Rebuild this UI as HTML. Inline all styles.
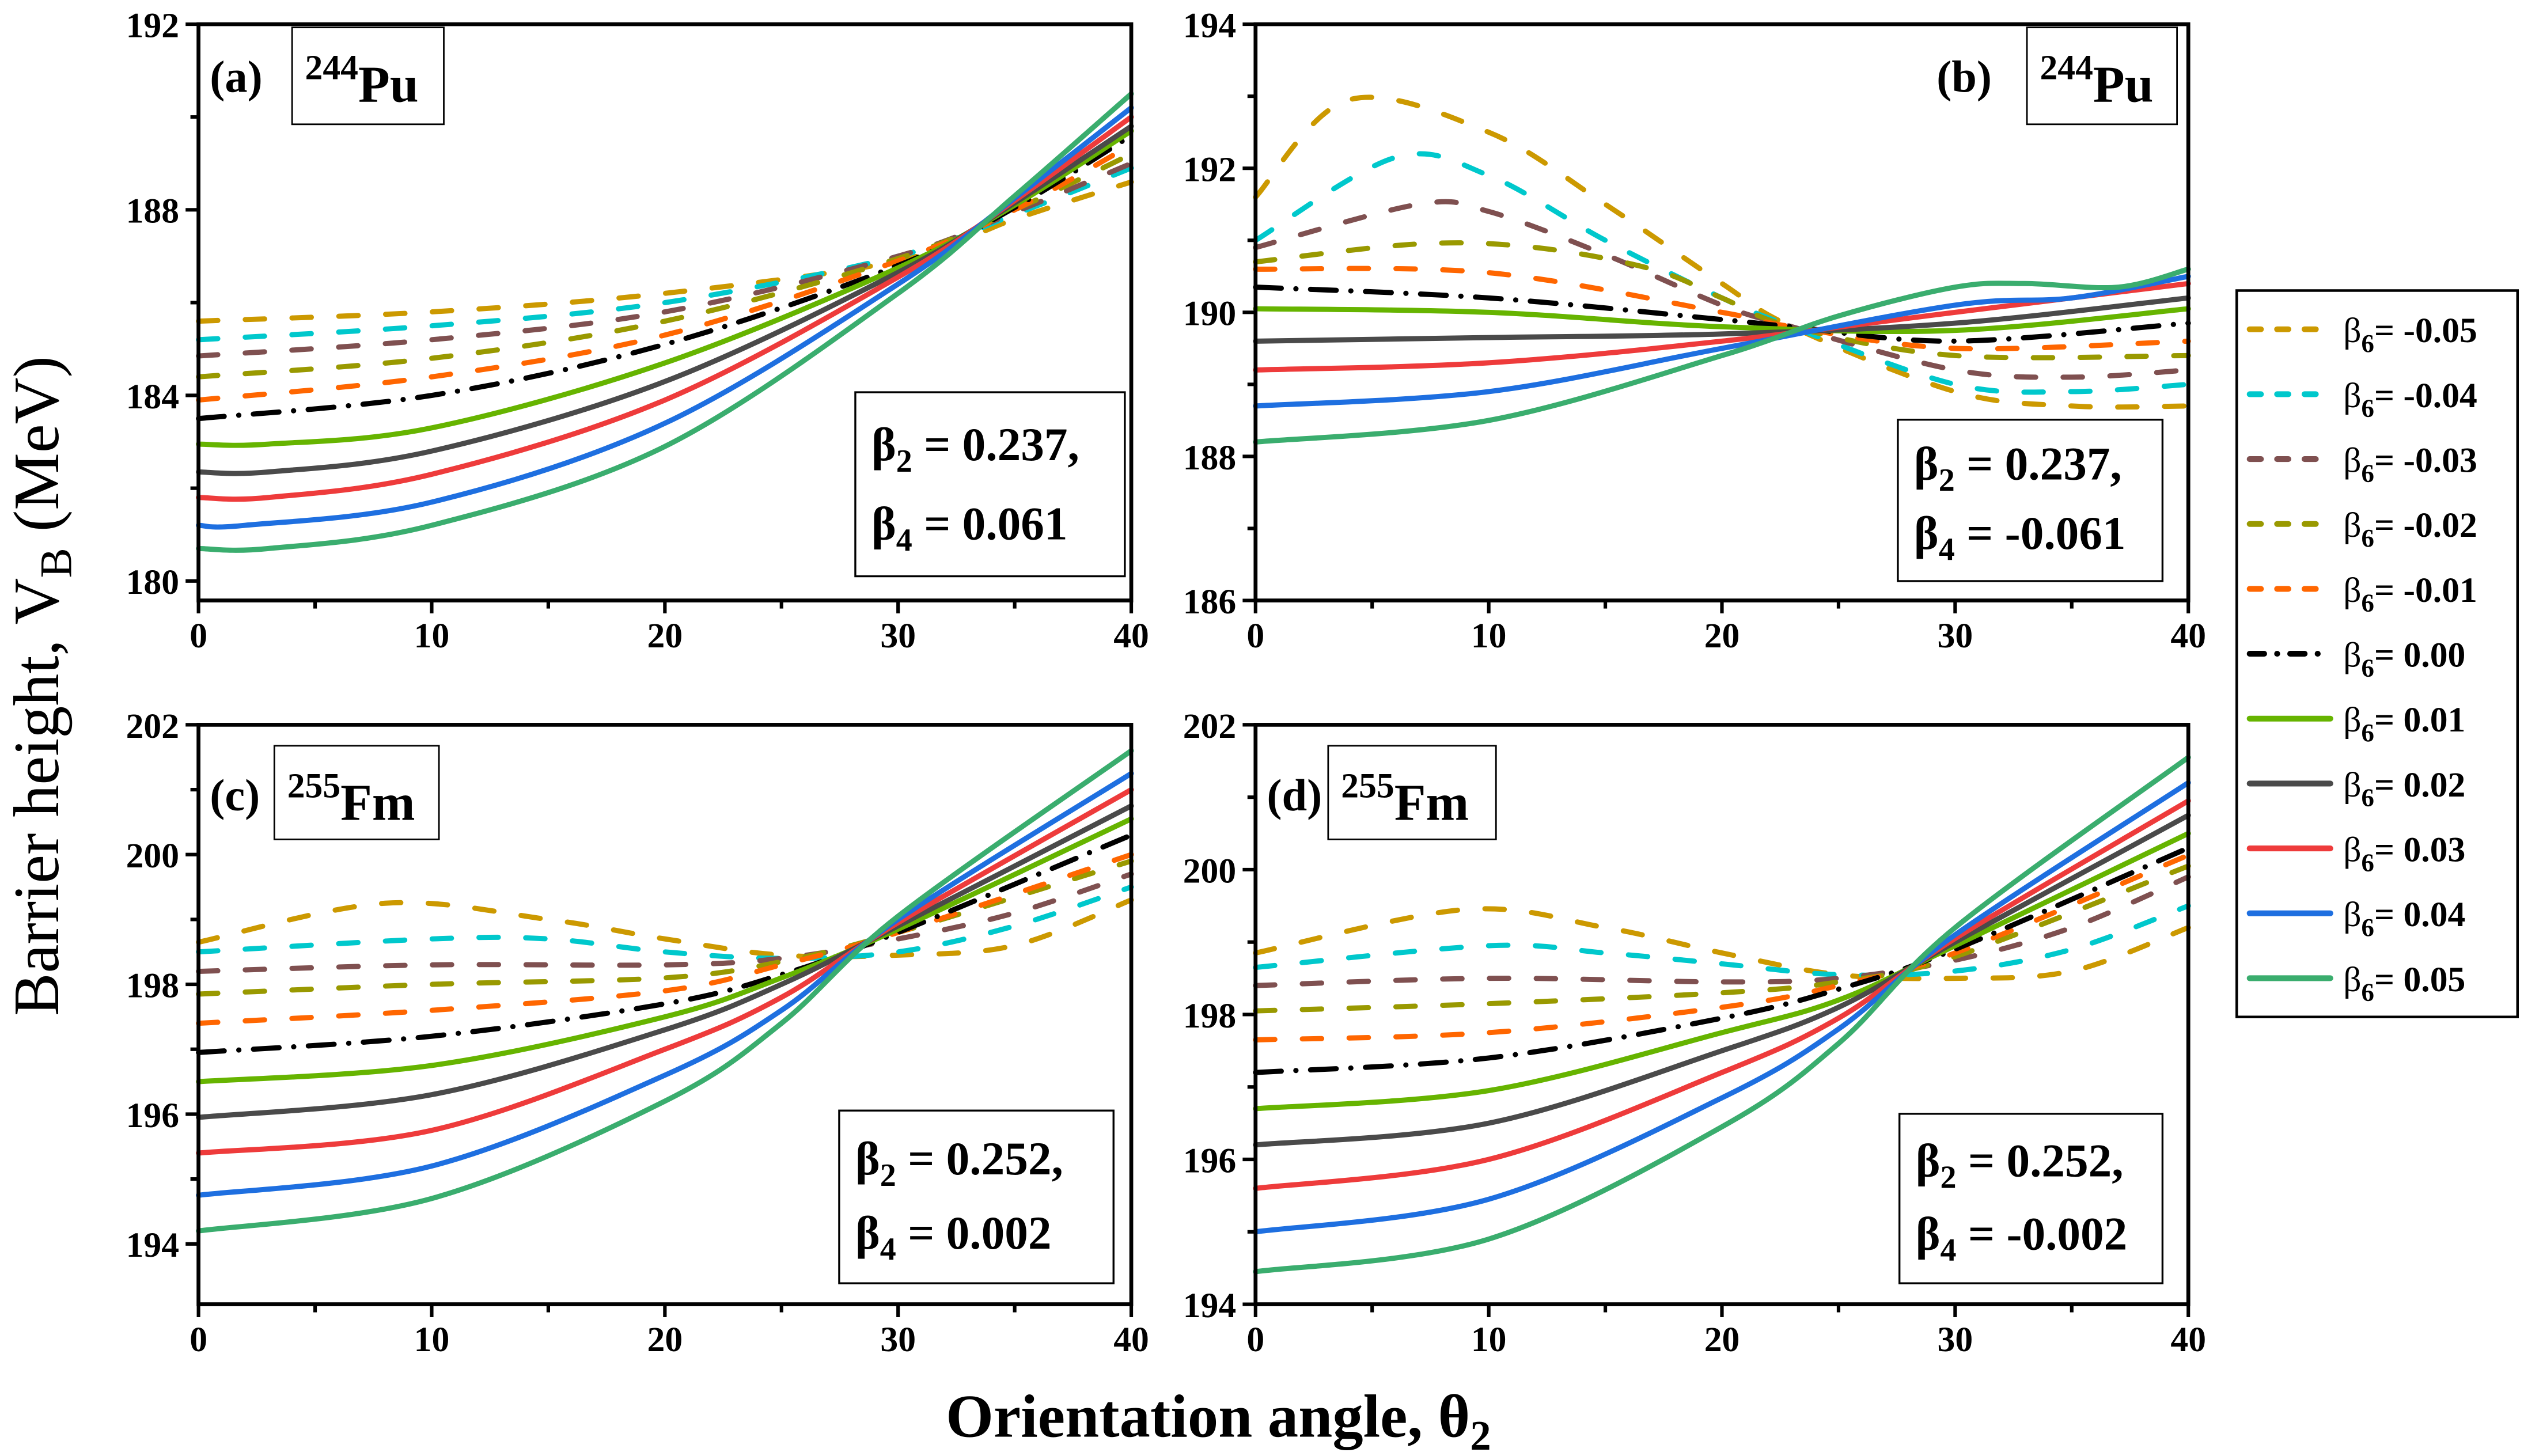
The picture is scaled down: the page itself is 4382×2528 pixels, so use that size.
<!DOCTYPE html>
<html><head><meta charset="utf-8"><style>
html,body{margin:0;padding:0;background:#fff;}
svg{display:block;}
text{font-family:"Liberation Serif",serif;font-weight:bold;fill:#000;}
</style></head><body>
<svg id="s" width="4382" height="2528" viewBox="0 0 1564 902" preserveAspectRatio="none" xmlns="http://www.w3.org/2000/svg">
<g id="g"></g>
<text x="36" y="425" font-size="40" font-weight="normal" style="font-weight:normal" text-anchor="middle" transform="rotate(-90 36 425)">Barrier height,  V<tspan font-size="28" dy="8">B</tspan><tspan dy="-8"> (MeV)</tspan></text>
<text x="755" y="890" font-size="38" text-anchor="middle">Orientation angle,  θ<tspan font-size="26" dy="8">2</tspan></text>
</svg>
<script>
var NS="http://www.w3.org/2000/svg",G=document.getElementById("g");
function el(t,a,txt){var e=document.createElementNS(NS,t);for(var k in a)e.setAttribute(k,a[k]);if(txt!==undefined)e.textContent=txt;G.appendChild(e);return e;}
var cols=["#CC9900","#00C8CC","#7F5050","#999900","#FF6600","#000","#66B400","#4A4A4A","#EE3B3B","#1E6FE0","#3AAD6E"];
var dash=["12 17","12 17","12 17","12 17","12 17","16 9 0.1 9","","","","",""];
var P=[
{x0:123,x1:701,yt:15,yb:372,vt:192,vb:179.58,maj:4,min:2,ticks:[180,184,188,192],lab:"(a)",lx:130,nuc:["244","Pu"],bx:[181,17,94,60],b2:"0.237,",b4:"0.061",bb:[530,243,167,114],
d:[
[[0,185.6],[10,185.8],[20,186.2],[30,186.9],[35,187.8],[40,188.6]],
[[0,185.2],[10,185.5],[20,186.0],[30,187.0],[35,187.9],[40,188.9]],
[[0,184.85],[10,185.2],[20,185.8],[30,187.0],[35,187.95],[40,189.0]],
[[0,184.4],[10,184.8],[20,185.6],[30,186.95],[35,188.0],[40,189.2]],
[[0,183.9],[10,184.4],[20,185.3],[30,186.9],[35,188.0],[40,189.4]],
[[0,183.5],[10,184.0],[20,185.1],[30,186.8],[35,188.05],[40,189.6]],
[[0,182.95],[3,182.95],[10,183.3],[20,184.7],[30,186.75],[35,188.1],[40,189.7]],
[[0,182.35],[3,182.35],[10,182.8],[20,184.3],[30,186.65],[35,188.15],[40,189.8]],
[[0,181.8],[3,181.8],[10,182.3],[20,183.9],[30,186.55],[35,188.2],[40,190.0]],
[[0,181.2],[2,181.2],[10,181.7],[20,183.4],[30,186.4],[35,188.25],[40,190.2]],
[[0,180.7],[3,180.7],[10,181.2],[20,182.9],[30,186.2],[35,188.3],[40,190.5]]]},
{x0:778,x1:1356,yt:15,yb:372,vt:194,vb:186,maj:2,min:1,ticks:[186,188,190,192,194],lab:"(b)",lx:1200,nuc:["244","Pu"],bx:[1256,17,93,60],b2:"0.237,",b4:"-0.061",bb:[1176,260,164,100],
d:[
[[0,191.6],[4,192.95],[10,192.5],[15,191.5],[20,190.4],[23,189.8],[30,188.9],[35,188.7],[40,188.7]],
[[0,191.0],[6,192.15],[10,191.9],[15,191.0],[20,190.2],[23,189.8],[30,189.0],[35,188.9],[40,189.0]],
[[0,190.9],[7,191.5],[10,191.4],[15,190.8],[20,190.1],[23,189.8],[30,189.2],[35,189.1],[40,189.2]],
[[0,190.7],[7,190.95],[12,190.9],[17,190.6],[20,190.2],[23,189.8],[30,189.4],[40,189.4]],
[[0,190.6],[10,190.55],[20,190.0],[23,189.8],[30,189.5],[40,189.6]],
[[0,190.35],[10,190.2],[20,189.9],[23,189.8],[30,189.6],[40,189.85]],
[[0,190.05],[10,190.0],[20,189.8],[30,189.75],[40,190.05]],
[[0,189.6],[10,189.65],[20,189.7],[30,189.85],[40,190.2]],
[[0,189.2],[10,189.3],[20,189.6],[30,190.0],[40,190.4]],
[[0,188.7],[10,188.9],[20,189.5],[30,190.1],[35,190.2],[40,190.5]],
[[0,188.2],[10,188.5],[20,189.4],[25,189.95],[30,190.35],[33,190.4],[37,190.35],[40,190.6]]]},
{x0:123,x1:701,yt:449,yb:808,vt:202,vb:193.07,maj:2,min:1,ticks:[194,196,198,200,202],lab:"(c)",lx:130,nuc:["255","Fm"],bx:[170,462,102,58],b2:"0.252,",b4:"0.002",bb:[520,688,170,107],
d:[
[[0,198.65],[8,199.25],[15,199.0],[20,198.7],[25,198.45],[30,198.45],[35,198.6],[40,199.3]],
[[0,198.5],[10,198.7],[15,198.7],[20,198.5],[25,198.4],[30,198.5],[35,198.9],[40,199.5]],
[[0,198.2],[10,198.3],[20,198.3],[25,198.4],[30,198.7],[35,199.1],[40,199.7]],
[[0,197.85],[10,198.0],[20,198.1],[25,198.35],[30,198.8],[40,199.9]],
[[0,197.4],[10,197.6],[20,197.9],[25,198.3],[30,198.8],[40,200.0]],
[[0,196.95],[10,197.2],[20,197.7],[25,198.15],[30,198.8],[40,200.3]],
[[0,196.5],[10,196.75],[20,197.5],[25,198.1],[30,198.85],[40,200.55]],
[[0,195.95],[10,196.3],[20,197.3],[25,198.0],[30,198.9],[40,200.75]],
[[0,195.4],[10,195.75],[20,197.0],[25,197.8],[30,198.95],[40,201.0]],
[[0,194.75],[10,195.2],[20,196.6],[25,197.6],[30,199.0],[40,201.25]],
[[0,194.2],[10,194.7],[20,196.2],[25,197.4],[30,199.05],[40,201.6]]]},
{x0:778,x1:1356,yt:449,yb:808,vt:202,vb:194,maj:2,min:1,ticks:[194,196,198,200,202],lab:"(d)",lx:785,nuc:["255","Fm"],bx:[823,462,104,58],b2:"0.252,",b4:"-0.002",bb:[1177,690,163,105],
d:[
[[0,198.85],[9,199.45],[15,199.2],[20,198.85],[25,198.55],[30,198.5],[35,198.6],[40,199.2]],
[[0,198.65],[10,198.95],[15,198.85],[20,198.7],[25,198.55],[30,198.6],[35,198.9],[40,199.5]],
[[0,198.4],[10,198.5],[20,198.45],[25,198.5],[30,198.75],[35,199.2],[40,199.9]],
[[0,198.05],[10,198.15],[20,198.3],[25,198.45],[30,198.8],[40,200.05]],
[[0,197.65],[10,197.75],[20,198.1],[25,198.4],[30,198.85],[40,200.2]],
[[0,197.2],[10,197.4],[20,197.95],[25,198.35],[30,198.9],[40,200.3]],
[[0,196.7],[10,196.95],[20,197.75],[25,198.2],[30,198.95],[40,200.5]],
[[0,196.2],[10,196.5],[20,197.5],[25,198.1],[30,199.0],[40,200.75]],
[[0,195.6],[10,196.0],[20,197.2],[25,197.95],[30,199.05],[40,200.95]],
[[0,195.0],[10,195.45],[20,196.85],[25,197.8],[30,199.1],[40,201.2]],
[[0,194.45],[10,194.9],[20,196.45],[25,197.6],[30,199.2],[40,201.55]]]}
];
P.forEach(function(p){
 var X=function(t){return p.x0+(p.x1-p.x0)*t/40;},Y=function(v){return p.yt+(p.yb-p.yt)*(p.vt-v)/(p.vt-p.vb);};
 p.d.forEach(function(c,i){
  var pts=c.map(function(q){return [X(q[0]),Y(q[1])];});
  var d="M"+pts[0][0]+","+pts[0][1];
  for(var k=0;k<pts.length-1;k++){
   var p0=pts[Math.max(k-1,0)],p1=pts[k],p2=pts[k+1],p3=pts[Math.min(k+2,pts.length-1)];
   d+=" C"+(p1[0]+(p2[0]-p0[0])/6)+","+(p1[1]+(p2[1]-p0[1])/6)+" "+(p2[0]-(p3[0]-p1[0])/6)+","+(p2[1]-(p3[1]-p1[1])/6)+" "+p2[0]+","+p2[1];
  }
  var a={d:d,fill:"none",stroke:cols[i],"stroke-width":3.2,"stroke-linecap":"round"};
  if(dash[i])a["stroke-dasharray"]=dash[i];
  el("path",a);
 });
 el("rect",{x:p.x0,y:p.yt,width:p.x1-p.x0,height:p.yb-p.yt,fill:"none",stroke:"#000","stroke-width":2.4});
 for(var t=0;t<=40;t+=5){var big=t%10==0;el("line",{x1:X(t),x2:X(t),y1:p.yb,y2:p.yb+(big?8:5),stroke:"#000","stroke-width":2.2});
  if(big)el("text",{x:X(t),y:p.yb+29,"font-size":22,"text-anchor":"middle"},""+t);}
 for(var v=Math.ceil(p.vb);v<=p.vt;v+=p.min){var big=p.ticks.indexOf(v)>=0;el("line",{x1:p.x0-(big?8:5),x2:p.x0,y1:Y(v),y2:Y(v),stroke:"#000","stroke-width":2.2});
  if(big)el("text",{x:p.x0-12,y:Y(v)+8,"font-size":22,"text-anchor":"end"},""+v);}
 el("text",{x:p.lx,y:p.bx[1]+40,"font-size":28},p.lab);
 el("rect",{x:p.bx[0],y:p.bx[1],width:p.bx[2],height:p.bx[3],fill:"#fff",stroke:"#000","stroke-width":1});
 var tt=el("text",{x:p.bx[0]+8,y:p.bx[1]+46,"font-size":32});
 tt.innerHTML='<tspan font-size="22" dy="-14">'+p.nuc[0]+'</tspan><tspan dy="14">'+p.nuc[1]+'</tspan>';
 var b=p.bb;el("rect",{x:b[0],y:b[1],width:b[2],height:b[3],fill:"#fff",stroke:"#000","stroke-width":1.2});
 var t1=el("text",{x:b[0]+10,y:b[1]+b[3]*0.37,"font-size":29});t1.innerHTML='β<tspan font-size="20" dy="7">2</tspan><tspan dy="-7"> = '+p.b2+'</tspan>';
 var t2=el("text",{x:b[0]+10,y:b[1]+b[3]*0.8,"font-size":29});t2.innerHTML='β<tspan font-size="20" dy="7">4</tspan><tspan dy="-7"> = '+p.b4+'</tspan>';
});
el("rect",{x:1386,y:180,width:174,height:450,fill:"#fff",stroke:"#000","stroke-width":1.6});
var labs=["-0.05","-0.04","-0.03","-0.02","-0.01","0.00","0.01","0.02","0.03","0.04","0.05"];
labs.forEach(function(l,i){var y=204+i*40.2;
 var a={x1:1394,x2:1444,y1:y,y2:y,stroke:cols[i],"stroke-width":3.6,"stroke-linecap":"round"};
 if(i<5)a["stroke-dasharray"]="7 10";else if(i==5)a["stroke-dasharray"]="9 8 0.1 8";
 el("line",a);
 var t=el("text",{x:1452,y:y+8,"font-size":22});
 t.innerHTML='<tspan style="font-weight:normal">β</tspan><tspan font-size="16" dy="6">6</tspan><tspan dy="-6">= '+l+'</tspan>';
});
</script>
</body></html>
